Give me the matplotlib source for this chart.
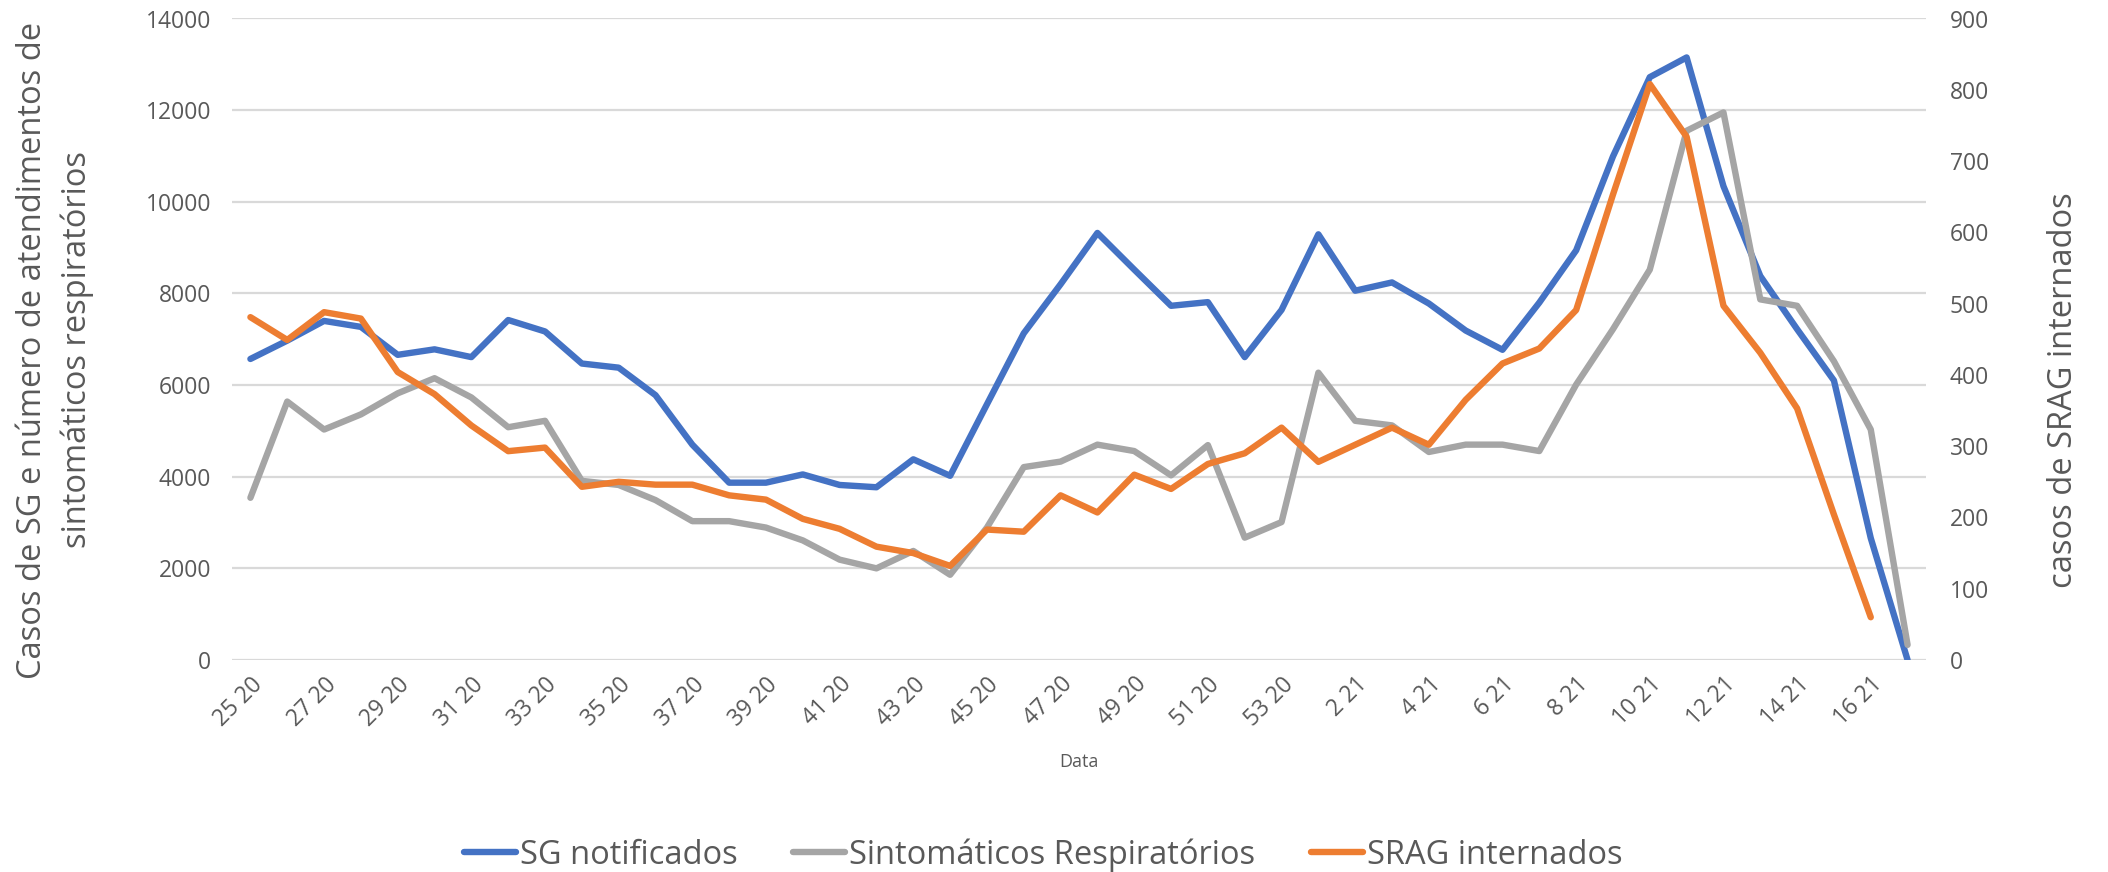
import numpy as np
import matplotlib.pyplot as plt
from matplotlib.lines import Line2D

# semanas epidemiologicas (25/2020 ate 17/2021)
weeks = ["25 20", "26 20", "27 20", "28 20", "29 20", "30 20", "31 20", "32 20",
         "33 20", "34 20", "35 20", "36 20", "37 20", "38 20", "39 20", "40 20",
         "41 20", "42 20", "43 20", "44 20", "45 20", "46 20", "47 20", "48 20",
         "49 20", "50 20", "51 20", "52 20", "53 20", "1 21", "2 21", "3 21",
         "4 21", "5 21", "6 21", "7 21", "8 21", "9 21", "10 21", "11 21",
         "12 21", "13 21", "14 21", "15 21", "16 21", "17 21"]

sg_notificados = [6570, 6970, 7400, 7270, 6660, 6780, 6610, 7420, 7170, 6470,
                  6380, 5780, 4700, 3870, 3870, 4050, 3820, 3770, 4380, 4020,
                  5580, 7130, 8200, 9320, 8520, 7730, 7810, 6610, 7640, 9290,
                  8060, 8240, 7780, 7190, 6770, 7800, 8940, 10990, 12720, 13150,
                  10340, 8380, 7220, 6100, 2660, 0]

sintomaticos = [3540, 5640, 5030, 5360, 5820, 6150, 5730, 5080, 5220, 3910,
                3820, 3490, 3030, 3030, 2890, 2610, 2190, 2000, 2380, 1860,
                2890, 4210, 4330, 4700, 4560, 4030, 4690, 2670, 3010, 6270,
                5220, 5120, 4540, 4700, 4700, 4560, 6010, 7220, 8520, 11550,
                11950, 7870, 7730, 6520, 5030, 330]

srag_internados = [481, 449, 488, 479, 404, 373, 329, 293, 298, 243,
                   250, 246, 246, 231, 225, 198, 184, 159, 150, 132,
                   183, 180, 231, 207, 260, 240, 275, 290, 326, 278,
                   302, 326, 302, 365, 416, 437, 491, 653, 808, 734,
                   497, 431, 353, 204, 60]

blue = "#4472C4"
grey = "#A5A5A5"
orange = "#ED7D31"
txt = "#595959"

plt.rcParams['font.family'] = ['Open Sans', 'DejaVu Sans']

fig = plt.figure(figsize=(21.08, 8.72), dpi=100)
ax = fig.add_axes([232/2108, 1 - 660/872, (1926 - 232)/2108, (660 - 18.5)/872])
ax2 = ax.twinx()

x = np.arange(len(weeks))
lw = 4.6
ax.plot(x, sg_notificados, color=blue, lw=lw, solid_capstyle='round', solid_joinstyle='round', zorder=3)
ax.plot(x, sintomaticos, color=grey, lw=lw, solid_capstyle='round', solid_joinstyle='round', zorder=4)
ax2.plot(x[:len(srag_internados)], srag_internados, color=orange, lw=lw,
         solid_capstyle='round', solid_joinstyle='round', zorder=5)

ax.set_xlim(-0.5, len(weeks) - 0.5)
ax.set_ylim(0, 14000)
ax.set_yticks(np.arange(0, 14001, 2000))
ax2.set_ylim(0, 900)
ax2.set_yticks(np.arange(0, 901, 100))

ax.grid(axis='y', color='#D9D9D9', lw=1.6)
ax.set_axisbelow(True)
for a in (ax, ax2):
    for s in a.spines.values():
        s.set_visible(False)
    a.tick_params(length=0, colors=txt)

ax.tick_params(axis='y', labelsize=16.5, pad=15)
ax2.yaxis.set_tick_params(which='both', labelsize=16.5, pad=17, labelright=True)

ax.set_xticks(x[::2])
ax.set_xticklabels(weeks[::2], rotation=45, ha='right', rotation_mode='anchor', fontsize=16.5)
ax.tick_params(axis='x', pad=9)

ax.set_xlabel("Data", fontsize=13, color=txt, labelpad=16)

fig.text(33/2108, 1 - 350/872, "Casos de SG e número de atendimentos de", rotation=90,
         fontsize=23.5, color=txt, ha='center', va='center')
fig.text(77/2108, 1 - 350/872, "sintomáticos respiratórios", rotation=90,
         fontsize=23.5, color=txt, ha='center', va='center')
fig.text(2064/2108, 1 - 390/872, "casos de SRAG internados", rotation=90,
         fontsize=23.5, color=txt, ha='center', va='center')

handles = [Line2D([], [], color=c, lw=lw, solid_capstyle='round') for c in (blue, grey, orange)]
fig.legend(handles, ["SG notificados", "Sintomáticos Respiratórios", "SRAG internados"],
           loc='center', bbox_to_anchor=(1043/2108, 1 - 855/872), ncol=3, frameon=False,
           fontsize=23.5, labelcolor=txt, handlelength=1.6, handletextpad=0.12,
           columnspacing=1.7, borderpad=0)

fig.savefig("out.png", dpi=100)
